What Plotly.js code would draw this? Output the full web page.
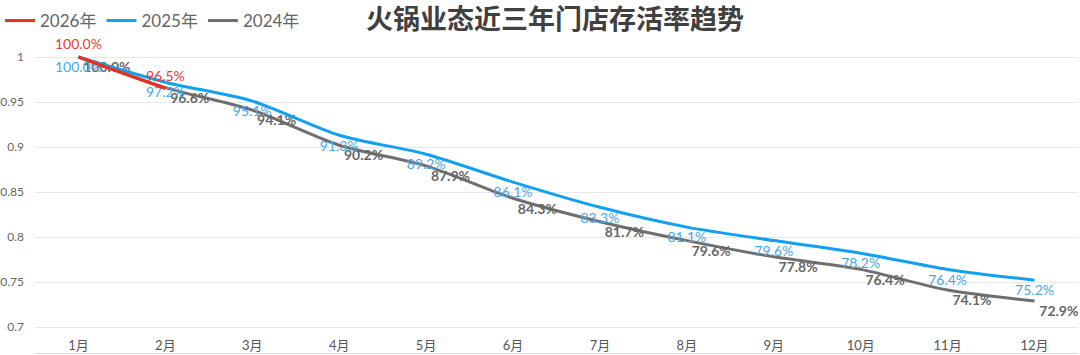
<!DOCTYPE html>
<html>
<head>
<meta charset="utf-8">
<script src="https://cdn.plot.ly/plotly-3.0.1.min.js"></script>
<style>html,body{margin:0;padding:0;background:#fff;}#chart{width:1080px;height:355px;}</style>
</head>
<body>
<div id="chart"></div>
<script>
const months = ['1月','2月','3月','4月','5月','6月','7月','8月','9月','10月','11月','12月'];
const y2026 = [1.000, 0.965];
const y2025 = [1.000, 0.972, 0.951, 0.913, 0.892, 0.861, 0.833, 0.811, 0.796, 0.782, 0.764, 0.752];
const y2024 = [1.000, 0.966, 0.941, 0.902, 0.879, 0.843, 0.817, 0.796, 0.778, 0.764, 0.741, 0.729];
const seriesNames = ['2026年', '2025年', '2024年'];
const seriesColors = ['#e8321e', '#14a0f0', '#6f6f6f'];
const yTicks = [0.7, 0.75, 0.8, 0.85, 0.9, 0.95, 1];
const yTickText = ['0.7', '0.75', '0.8', '0.85', '0.9', '0.95', '1'];

const fmt = v => (v * 100).toFixed(1) + '%';
const FONT = 'Lato, "Noto Sans CJK SC", sans-serif';

const traces = [
  {
    name: seriesNames[2], x: months, y: y2024, mode: 'lines+markers+text', showlegend: false,
    line: {color: seriesColors[2], width: 3, shape: 'spline', smoothing: 0.8},
    marker: {size: 6, opacity: 0, color: seriesColors[2]},
    text: y2024.map(fmt), textposition: 'bottom right', cliponaxis: false,
    textfont: {family: FONT, size: 14, color: '#666666', weight: 'bold'},
    hoverinfo: 'none'
  },
  {
    name: seriesNames[1], x: months, y: y2025, mode: 'lines+markers+text', showlegend: false,
    line: {color: seriesColors[1], width: 3, shape: 'spline', smoothing: 0.8},
    marker: {size: 6, opacity: 0, color: seriesColors[1]},
    text: y2025.map(fmt), textposition: 'bottom center', cliponaxis: false,
    textfont: {family: FONT, size: 14, color: '#4aa8ea'},
    hoverinfo: 'none'
  },
  {
    name: seriesNames[0], x: months.slice(0, y2026.length), y: y2026, mode: 'lines+markers+text', showlegend: false,
    line: {color: seriesColors[0], width: 3, shape: 'spline', smoothing: 0.8},
    marker: {size: 5, opacity: 0, color: seriesColors[0]},
    text: y2026.map(fmt), textposition: 'top center', cliponaxis: false,
    textfont: {family: FONT, size: 14, color: '#e8412e'},
    hoverinfo: 'none'
  }
];
// legend-only entries (lines only)
seriesNames.forEach((n, i) => {
  traces.push({
    name: n, x: [null], y: [null], mode: 'lines',
    line: {color: seriesColors[i], width: 3},
    showlegend: true, hoverinfo: 'none'
  });
});

const layout = {
  width: 1080, height: 355,
  paper_bgcolor: '#ffffff', plot_bgcolor: '#ffffff',
  margin: {l: 35, r: 2, t: 39, b: 2},
  font: {family: FONT, color: '#666666'},
  title: {
    text: '<b>火锅业态近三年门店存活率趋势</b>',
    x: 555 / 1080, xanchor: 'center', xref: 'container',
    y: 1 - 20 / 355, yanchor: 'middle', yref: 'container',
    font: {family: '"Noto Sans CJK SC", sans-serif', size: 27, color: '#404040'}
  },
  showlegend: true,
  legend: {
    orientation: 'h', x: -0.006, xanchor: 'left', xref: 'container',
    y: 1 - 21 / 355, yanchor: 'middle', yref: 'container',
    traceorder: 'normal', itemwidth: 30,
    font: {family: FONT, size: 17, color: '#666666'},
    bgcolor: 'rgba(0,0,0,0)'
  },
  xaxis: {
    type: 'category', categoryorder: 'array', categoryarray: months,
    range: [-0.5, 11.5], showgrid: false, zeroline: false,
    showline: true, linecolor: '#dcdcdc', linewidth: 1,
    ticks: '', ticklabelposition: 'inside',
    tickfont: {family: FONT, size: 13, color: '#555555'},
    fixedrange: true
  },
  yaxis: {
    range: [0.7 - 26 / 900, 1 + 18 / 900],
    tickmode: 'array', tickvals: yTicks, ticktext: yTickText,
    showgrid: true, gridcolor: '#e8e8e8', gridwidth: 1,
    zeroline: false, showline: false, ticks: '',
    ticklabelstandoff: 10,
    tickfont: {family: FONT, size: 12, color: '#666666'},
    fixedrange: true
  }
};

Plotly.newPlot('chart', traces, layout, {displayModeBar: false, staticPlot: true});
</script>
</body>
</html>
